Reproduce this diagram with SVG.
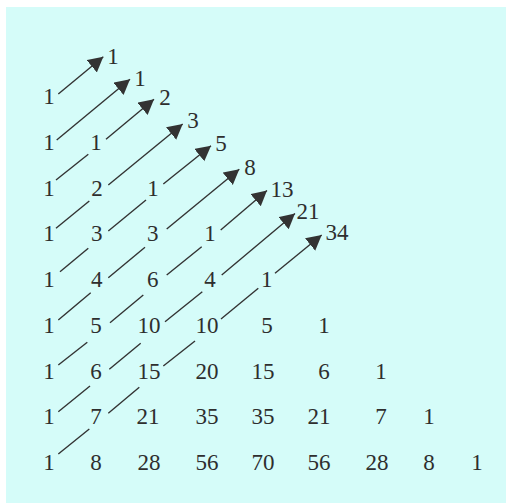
<svg xmlns="http://www.w3.org/2000/svg" width="506" height="503" viewBox="0 0 506 503">
<style>
text{font-family:"Liberation Serif","Times New Roman",serif;font-size:23px;fill:#2e2e2e;text-anchor:middle}
.seg line{stroke:#333;stroke-width:1.4;fill:none}
.arr{marker-end:url(#ah)}
</style>
<defs>
<marker id="ah" markerUnits="userSpaceOnUse" markerWidth="17" markerHeight="17" refX="15" refY="8" orient="auto" viewBox="0 0 17 17">
<path d="M0,0 L15,8 L0,16 Z" fill="#333"/>
</marker>
</defs>
<rect x="6" y="7" width="500" height="496" fill="#d5fcf9"/>
<g id="connectors" class="seg">
<line class="arr" x1="58.3" y1="94" x2="103.3" y2="56.7"/>
<line class="arr" x1="56.7" y1="140" x2="130" y2="79.3"/>
<line x1="56" y1="180" x2="88.3" y2="154.3"/>
<line class="arr" x1="106" y1="139.3" x2="154" y2="99.3"/>
<line x1="56" y1="228.3" x2="89.3" y2="201"/>
<line class="arr" x1="108.3" y1="185" x2="182.7" y2="124"/>
<line x1="60" y1="271.7" x2="88.3" y2="248.3"/>
<line x1="108.3" y1="231" x2="146" y2="200"/>
<line class="arr" x1="163.3" y1="184" x2="211" y2="145.7"/>
<line x1="58.3" y1="320" x2="90.7" y2="292.7"/>
<line x1="108.3" y1="277.7" x2="145" y2="247.3"/>
<line class="arr" x1="166.7" y1="229" x2="239.3" y2="169.3"/>
<line x1="58.3" y1="365" x2="87.3" y2="342.3"/>
<line x1="110" y1="322.7" x2="143.3" y2="295"/>
<line x1="166.7" y1="275" x2="201.7" y2="246.7"/>
<line class="arr" x1="220.7" y1="230" x2="267" y2="190.5"/>
<line x1="58.3" y1="411.7" x2="90" y2="386"/>
<line x1="109.3" y1="369.3" x2="140.7" y2="343.3"/>
<line x1="165" y1="321.7" x2="202.3" y2="291.7"/>
<line class="arr" x1="221.7" y1="275" x2="295" y2="213.5"/>
<line x1="58.3" y1="454" x2="89.3" y2="429"/>
<line x1="108.3" y1="413.3" x2="139.3" y2="387.3"/>
<line x1="163.3" y1="366" x2="195" y2="341"/>
<line x1="221" y1="319" x2="258.3" y2="288.3"/>
<line class="arr" x1="275" y1="273.3" x2="321.7" y2="235"/>
</g>
<g id="fibonacci">
<text x="113" y="64">1</text>
<text x="140" y="86">1</text>
<text x="165" y="105">2</text>
<text x="193" y="128">3</text>
<text x="221" y="151">5</text>
<text x="250" y="175">8</text>
<text x="282" y="197">13</text>
<text x="308" y="218.5">21</text>
<text x="337" y="240">34</text>
</g>
<g id="row0"><text x="49" y="104">1</text></g>
<g id="row1"><text x="49" y="149.75">1</text><text x="96" y="149.75">1</text></g>
<g id="row2"><text x="49" y="195.5">1</text><text x="97" y="195.5">2</text><text x="153" y="195.5">1</text></g>
<g id="row3"><text x="49" y="241.25">1</text><text x="96.7" y="241.25">3</text><text x="152.7" y="241.25">3</text><text x="210" y="241.25">1</text></g>
<g id="row4"><text x="49" y="287">1</text><text x="96.7" y="287">4</text><text x="152.7" y="287">6</text><text x="210" y="287">4</text><text x="266.7" y="287">1</text></g>
<g id="row5"><text x="49" y="332.75">1</text><text x="96" y="332.75">5</text><text x="149" y="332.75">10</text><text x="207" y="332.75">10</text><text x="267" y="332.75">5</text><text x="324" y="332.75">1</text></g>
<g id="row6"><text x="49" y="378.5">1</text><text x="96" y="378.5">6</text><text x="149" y="378.5">15</text><text x="207" y="378.5">20</text><text x="263" y="378.5">15</text><text x="324" y="378.5">6</text><text x="381" y="378.5">1</text></g>
<g id="row7"><text x="49" y="424.25">1</text><text x="96" y="424.25">7</text><text x="148" y="424.25">21</text><text x="207" y="424.25">35</text><text x="263" y="424.25">35</text><text x="319" y="424.25">21</text><text x="381" y="424.25">7</text><text x="429" y="424.25">1</text></g>
<g id="row8"><text x="49" y="470">1</text><text x="96" y="470">8</text><text x="149" y="470">28</text><text x="207" y="470">56</text><text x="263" y="470">70</text><text x="319" y="470">56</text><text x="377" y="470">28</text><text x="429" y="470">8</text><text x="477" y="470">1</text></g>
</svg>
